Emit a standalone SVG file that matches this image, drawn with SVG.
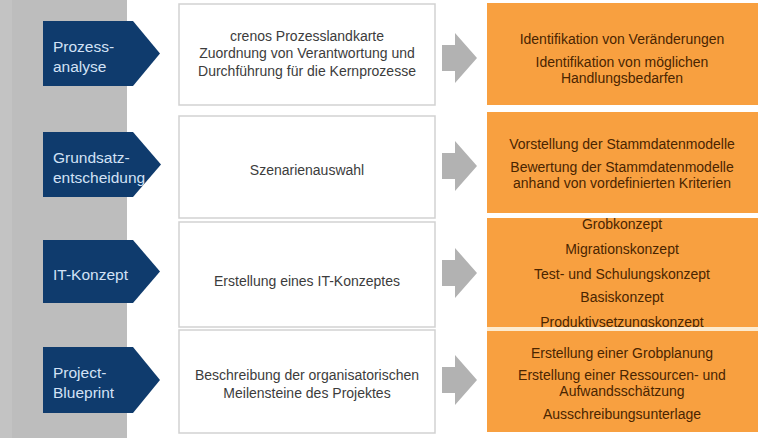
<svg xmlns="http://www.w3.org/2000/svg" width="760" height="438" viewBox="0 0 760 438">
<style>
  .band{fill:#bdbdbd}
  .step{fill:#0f3b6d}
  .lbl{font-family:"Liberation Sans",Arial,sans-serif;font-size:15.5px;fill:#d3e2f6}
  .box{fill:#ffffff;stroke:#d2d2d2;stroke-width:1.5}
  .btxt{font-family:"Liberation Sans",Arial,sans-serif;font-size:14px;fill:#3c3c3c;text-anchor:middle}
  .obox{fill:#f8a040}
  .otxt{font-family:"Liberation Sans",Arial,sans-serif;font-size:14px;fill:#4a2500;text-anchor:middle}
  .arr{fill:#b2b2b2}
  .gap{fill:#fdebcf}
</style>
<defs>
  <clipPath id="c1"><polygon points="43,21 133,21 160,53.5 133,86 43,86"/></clipPath>
  <clipPath id="c2"><polygon points="43,132 133,132 161,164.5 133,197 43,197"/></clipPath>
  <clipPath id="c3"><polygon points="43,240 133,240 160,271.5 133,303 43,303"/></clipPath>
  <clipPath id="c4"><polygon points="43,347 133,347 160,380 133,413 43,413"/></clipPath>
</defs>
<rect class="band" x="0" y="0" width="127" height="438"/>
<rect x="0" y="0" width="12" height="438" fill="#c3c3c3"/>

<g id="step1">
  <polygon class="step" points="43,21 133,21 160,53.5 133,86 43,86"/>
  <g clip-path="url(#c1)"><text class="lbl" x="53" y="52">Prozess-</text><text class="lbl" x="53" y="72">analyse</text></g>
</g>
<g id="step2">
  <polygon class="step" points="43,132 133,132 161,164.5 133,197 43,197"/>
  <g clip-path="url(#c2)"><text class="lbl" x="53" y="163">Grundsatz-</text><text class="lbl" x="53" y="183">entscheidung</text></g>
</g>
<g id="step3">
  <polygon class="step" points="43,240 133,240 160,271.5 133,303 43,303"/>
  <g clip-path="url(#c3)"><text class="lbl" x="53" y="280">IT-Konzept</text></g>
</g>
<g id="step4">
  <polygon class="step" points="43,347 133,347 160,380 133,413 43,413"/>
  <g clip-path="url(#c4)"><text class="lbl" x="53" y="378">Project-</text><text class="lbl" x="53" y="398">Blueprint</text></g>
</g>

<g id="desc1">
  <rect class="box" x="179" y="4" width="256" height="101"/>
  <text class="btxt" x="307" y="41">crenos Prozesslandkarte</text>
  <text class="btxt" x="307" y="58">Zuordnung von Verantwortung und</text>
  <text class="btxt" x="307" y="76">Durchführung für die Kernprozesse</text>
</g>
<g id="desc2">
  <rect class="box" x="179" y="116" width="256" height="102"/>
  <text class="btxt" x="307" y="175">Szenarienauswahl</text>
</g>
<g id="desc3">
  <rect class="box" x="179" y="222" width="256" height="105"/>
  <text class="btxt" x="307" y="286">Erstellung eines IT-Konzeptes</text>
</g>
<g id="desc4">
  <rect class="box" x="179" y="330" width="256" height="103"/>
  <text class="btxt" x="307" y="380">Beschreibung der organisatorischen</text>
  <text class="btxt" x="307" y="398">Meilensteine des Projektes</text>
</g>

<g id="connectors">
  <polygon class="arr" points="442,45 455,45 455,33 477,58 455,83 455,71 442,71"/>
  <polygon class="arr" points="442,153 455,153 455,141 477,166 455,191 455,179 442,179"/>
  <polygon class="arr" points="442,260 455,260 455,248 477,273 455,298 455,286 442,286"/>
  <polygon class="arr" points="442,367 455,367 455,355 477,380 455,405 455,393 442,393"/>
</g>

<g id="result1">
  <rect class="obox" x="487" y="3" width="271" height="102"/>
  <text class="otxt" x="622" y="44">Identifikation von Veränderungen</text>
  <text class="otxt" x="622" y="67">Identifikation von möglichen</text>
  <text class="otxt" x="622" y="83">Handlungsbedarfen</text>
</g>
<g id="result2">
  <rect class="obox" x="487" y="112" width="271" height="101"/>
  <text class="otxt" x="622" y="149">Vorstellung der Stammdatenmodelle</text>
  <text class="otxt" x="622" y="172">Bewertung der Stammdatenmodelle</text>
  <text class="otxt" x="622" y="188">anhand von vordefinierten Kriterien</text>
</g>
<g id="result3">
  <rect class="obox" x="487" y="218" width="271" height="109"/>
  <text class="otxt" x="622" y="229">Grobkonzept</text>
  <text class="otxt" x="622" y="254">Migrationskonzept</text>
  <text class="otxt" x="622" y="279">Test- und Schulungskonzept</text>
  <text class="otxt" x="622" y="302">Basiskonzept</text>
  <text class="otxt" x="622" y="327">Produktivsetzungskonzept</text>
</g>
<rect class="gap" x="487" y="327" width="271" height="4"/>
<g id="result4">
  <rect class="obox" x="487" y="331" width="271" height="101"/>
  <text class="otxt" x="622" y="358">Erstellung einer Grobplanung</text>
  <text class="otxt" x="622" y="380">Erstellung einer Ressourcen- und</text>
  <text class="otxt" x="622" y="396">Aufwandsschätzung</text>
  <text class="otxt" x="622" y="419">Ausschreibungsunterlage</text>
</g>
</svg>
